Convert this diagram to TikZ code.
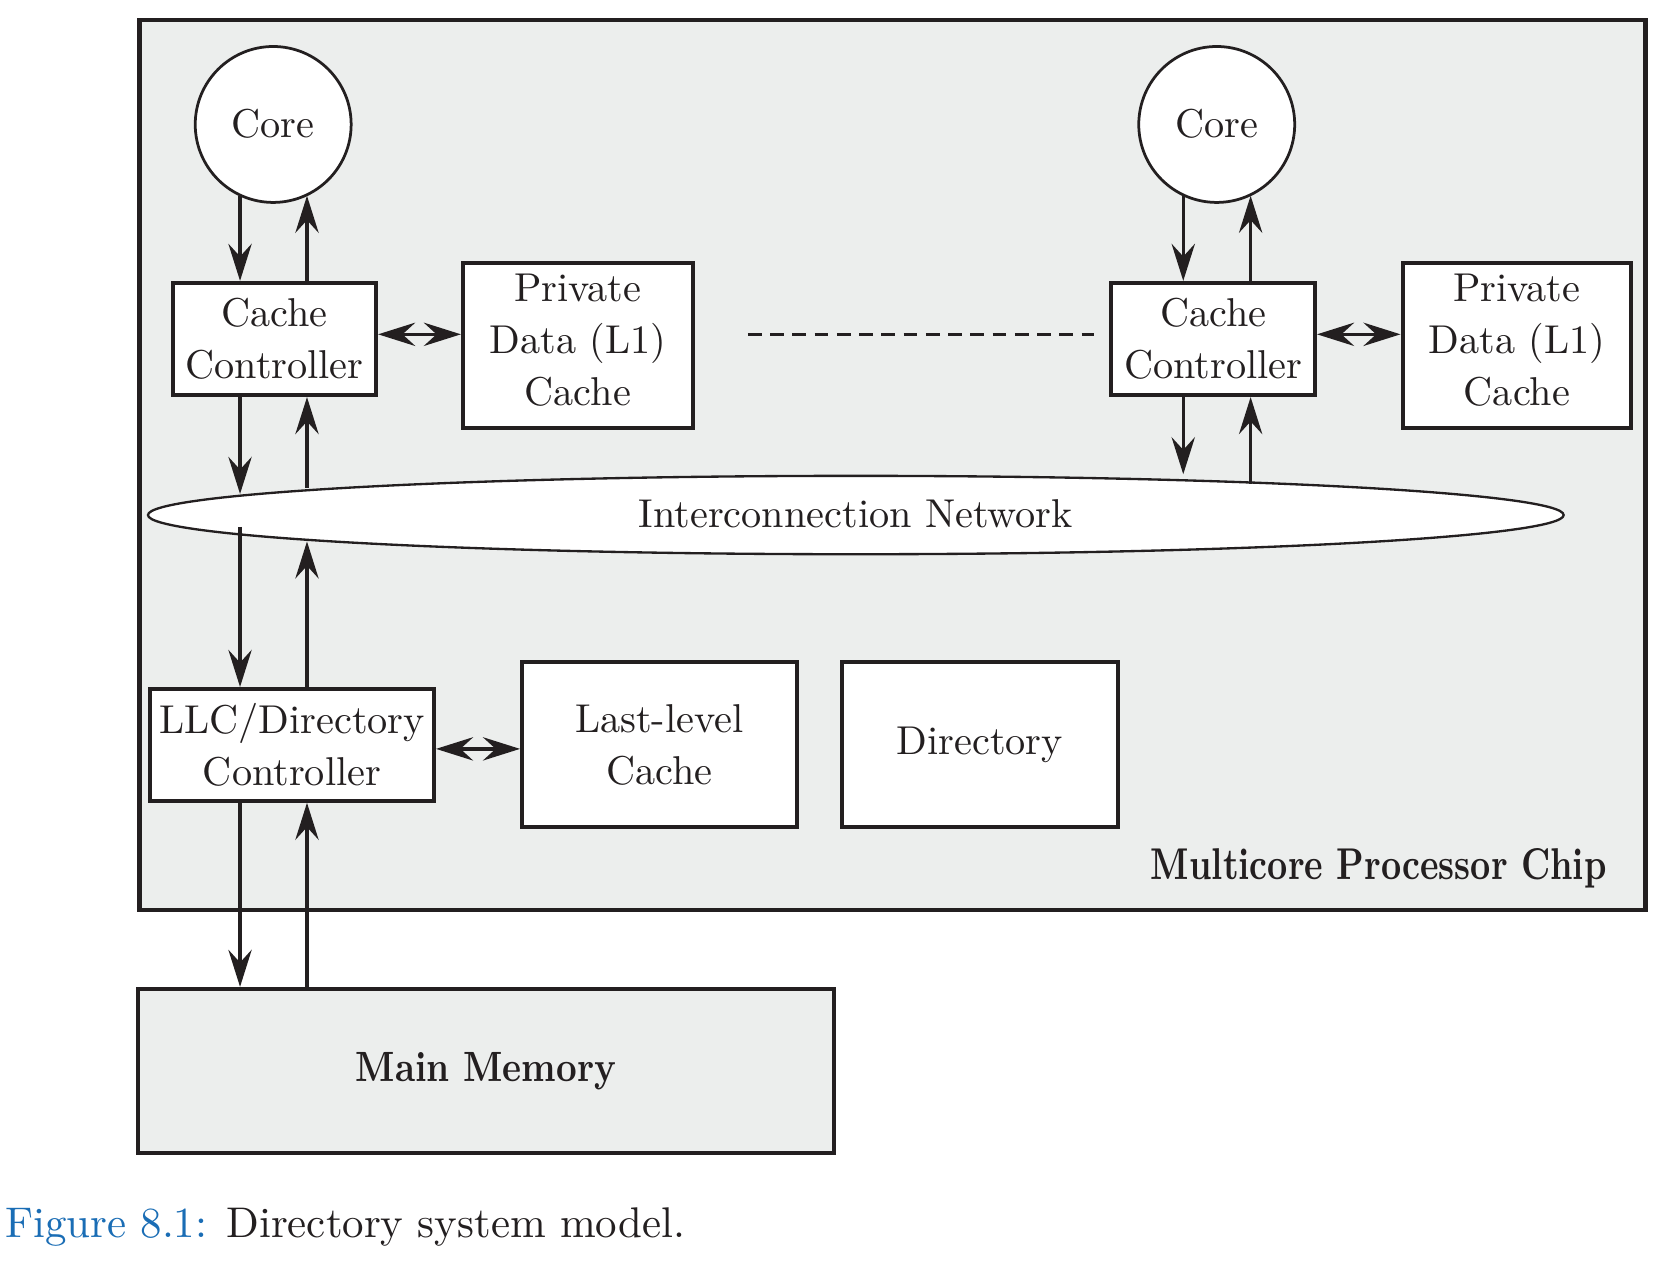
\documentclass[tikz,border=0pt]{standalone}
\usepackage{fontspec}
\setmainfont{lmroman10-regular}[Extension=.otf, BoldFont=lmroman10-bold, ItalicFont=lmroman10-italic]
\usepackage{graphicx}
\usetikzlibrary{arrows.meta,shapes.geometric,calc}
\definecolor{ink}{HTML}{231F20}
\definecolor{chipgray}{HTML}{ECEEED}
\definecolor{capblue}{HTML}{1A6DB5}
\begin{document}
\begin{tikzpicture}[x=1pt,y=-1pt,
  every node/.style={text=ink, font=\fontsize{38}{49}\selectfont, align=center},
  box/.style={draw=ink, line width=3.8pt, fill=white, rectangle, inner sep=0pt},
  corenode/.style={draw=ink, line width=2.6pt, fill=white, circle, minimum size=147.2pt, inner sep=0pt},
  link/.style={draw=ink, line width=3.1pt, -{Stealth[length=35pt,width=22pt,inset=12pt]}},
  dbl/.style={draw=ink, line width=3.1pt, {Stealth[length=35pt,width=22pt,inset=12pt]}-{Stealth[length=35pt,width=22pt,inset=12pt]}},
]
\useasboundingbox (0,0) rectangle (1568,1196);
\fill[white] (0,0) rectangle (1568,1196);

% chip
\node[draw=ink, line width=4.2pt, fill=chipgray, rectangle, minimum width=1422pt, minimum height=840pt, inner sep=0pt] (chip) at (842.5,439) {};

% main memory
\node[box, fill=chipgray, minimum width=656.4pt, minimum height=155pt] (mm) at (458.8,1011)
  {\fontsize{40}{48}\selectfont\bfseries\scalebox{0.85}[1]{Main Memory}};

% cores
\node[corenode] (coreL) at (257.9,117.5) {\raisebox{2pt}{Core}};
\node[corenode] (coreR) at (1148.6,117.5) {\raisebox{2pt}{Core}};

% cache controllers
\node[box, minimum width=191.7pt, minimum height=105.9pt] (ccL) at (259.2,320) {Cache\\Controller};
\node[box, minimum width=192.4pt, minimum height=105.9pt] (ccR) at (1145.2,320) {Cache\\Controller};

% private caches
\node[box, minimum width=217pt, minimum height=156pt] (privL) at (545.5,326) {};
\node[inner sep=0pt] (privLtext) at ([yshift=5pt]privL.center) {Private\\Data (L1)\\Cache};
\node[box, minimum width=216pt, minimum height=156pt] (privR) at (1432,326) {};
\node[inner sep=0pt] (privRtext) at ([yshift=5pt]privR.center) {Private\\Data (L1)\\Cache};

% interconnection network
\node[draw=ink, line width=2.2pt, fill=white, ellipse, minimum width=1336.4pt, minimum height=74pt, inner sep=0pt] (net) at (807.9,486.2) {\raisebox{2pt}{Interconnection Network}};

% lower boxes
\node[box, minimum width=268.1pt, minimum height=105.5pt] (llc) at (275.65,703.15) {LLC/Directory\\Controller};
\node[box, minimum width=259.2pt, minimum height=156pt] (lastl) at (622.4,703) {Last-level\\Cache};
\node[box, minimum width=260pt, minimum height=156pt] (dir) at (925,703) {Directory};

% chip label
\node[anchor=base east, inner sep=0pt] (chiplabel) at (1516.7,830.7)
  {\fontsize{42}{50}\selectfont\bfseries\scalebox{0.79}[1]{Multicore Processor Chip}};

% dashed ellipsis
\coordinate (dashA) at (706,316);
\coordinate (dashB) at (1033,316);
\draw[ink, line width=3.1pt, dash pattern=on 13pt off 8pt] (dashA) -- (dashB);

% column x positions
\coordinate (xLd) at (226.6,0);
\coordinate (xLu) at (289.8,0);
\coordinate (xRd) at (1117,0);
\coordinate (xRu) at (1180.6,0);

% left column
\draw[link] (xLd |- coreL.-115.17) -- (xLd |- ccL.north);
\draw[link] (xLu |- ccL.north) -- (xLu |- coreL.-64.32);
\draw[link] (xLd |- ccL.south) -- (xLd |- net.178.20);
\draw[link] (xLu |- net.177.42) -- (xLu |- ccL.south);
\draw[link] (xLd |- net.181.80) -- (xLd |- llc.north);
\draw[link] (xLu |- llc.north) -- ($(xLu |- net.182.58)+(0,5)$);
\draw[link] (xLd |- llc.south) -- (xLd |- mm.north);
\draw[link] (xLu |- mm.north) -- (xLu |- llc.south);

% right column
\draw[link] (xRd |- coreR.-115.42) -- (xRd |- ccR.north);
\draw[link] (xRu |- ccR.north) -- (xRu |- coreR.-64.23);
\draw[link] (xRd |- ccR.south) -- ($(xRd |- net.6.06)+(0,-5)$);
\draw[link] (xRu |- net.4.71) -- (xRu |- ccR.south);

% double arrows
\draw[dbl] ([yshift=4.4pt]ccL.east) -- ([yshift=4.4pt]ccL.east -| privL.west);
\draw[dbl] ([yshift=4.4pt]ccR.east) -- ([yshift=4.4pt]ccR.east -| privR.west);
\draw[dbl] ([yshift=-3.8pt]llc.east) -- ([yshift=-3.8pt]llc.east -| lastl.west);

% caption
\node[anchor=base west, inner sep=0pt] (caption) at (4.7,1168)
  {\fontsize{40.5}{48}\selectfont\textcolor{capblue}{Figure 8.1:} Directory system model.};
\end{tikzpicture}
\end{document}
